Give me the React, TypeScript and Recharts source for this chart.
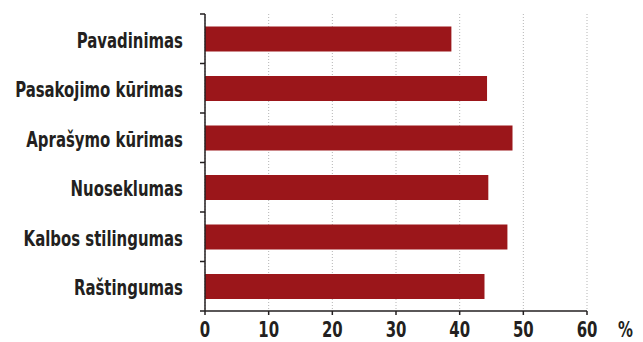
import React from "react";
import { BarChart, Bar, XAxis, YAxis, CartesianGrid, Label } from "recharts";

const categories = [
  "Pavadinimas",
  "Pasakojimo kūrimas",
  "Aprašymo kūrimas",
  "Nuoseklumas",
  "Kalbos stilingumas",
  "Raštingumas",
];
const percentValues = [38.7, 44.3, 48.3, 44.5, 47.5, 43.9];
const xTicks = [0, 10, 20, 30, 40, 50, 60];

const data = categories.map((name, i) => ({ name, value: percentValues[i] }));

const W = 643;
const H = 342;
const TOP = 14;
const BOTTOM_AXIS_H = 31;
const LEFT_W = 205;
const RIGHT = 56;
const FONT = "'DejaVu Sans Condensed', 'DejaVu Sans', sans-serif";
const FS = 21;
const SQUEEZE = 0.79;
const INK = "#231f20";
const band = (H - TOP - BOTTOM_AXIS_H) / categories.length;

// condensed bold text, anchored at (x, y)
function Narrow({ x, y, anchor, children }: any) {
  return (
    <text
      transform={`translate(${x},${y}) scale(${SQUEEZE},1)`}
      textAnchor={anchor}
      fontFamily={FONT}
      fontWeight="bold"
      fontSize={FS}
      fill={INK}
    >
      {children}
    </text>
  );
}

function CategoryTick(props: any) {
  const { y, payload, index } = props;
  const top = y - band / 2;
  return (
    <g>
      <line x1={LEFT_W - 5} x2={LEFT_W} y1={top} y2={top} stroke={INK} strokeWidth={1.5} />
      {index === categories.length - 1 && (
        <line x1={LEFT_W - 5} x2={LEFT_W} y1={top + band} y2={top + band} stroke={INK} strokeWidth={1.5} />
      )}
      <Narrow x={LEFT_W - 22} y={y + 9} anchor="end">
        {payload.value}
      </Narrow>
    </g>
  );
}

function ValueTick(props: any) {
  const { x, y, payload } = props;
  return (
    <Narrow x={x} y={y + 20} anchor="middle">
      {payload.value}
    </Narrow>
  );
}

function PercentLabel(props: any) {
  const { viewBox } = props;
  return (
    <Narrow x={viewBox.x + viewBox.width + 31} y={viewBox.y + 26} anchor="start">
      %
    </Narrow>
  );
}

export default function App() {
  return (
    <div style={{ position: "absolute", left: 0, top: 0, background: "#fff" }}>
      <BarChart
        width={W}
        height={H}
        data={data}
        layout="vertical"
        margin={{ top: TOP, right: RIGHT, bottom: 0, left: 0 }}
        barCategoryGap="25%"
      >
        <CartesianGrid horizontal={false} stroke="#b5b5b5" strokeDasharray="1 2" />
        <XAxis
          type="number"
          domain={[0, 60]}
          ticks={xTicks}
          interval={0}
          height={BOTTOM_AXIS_H}
          stroke={INK}
          strokeWidth={1.5}
          tickSize={4}
          tickMargin={2}
          tick={<ValueTick />}
        >
          <Label content={<PercentLabel />} />
        </XAxis>
        <YAxis
          type="category"
          dataKey="name"
          width={LEFT_W}
          stroke={INK}
          strokeWidth={1.5}
          tickLine={false}
          interval={0}
          tick={<CategoryTick />}
        />
        <Bar dataKey="value" fill="#9b161a" isAnimationActive={false} />
      </BarChart>
    </div>
  );
}
